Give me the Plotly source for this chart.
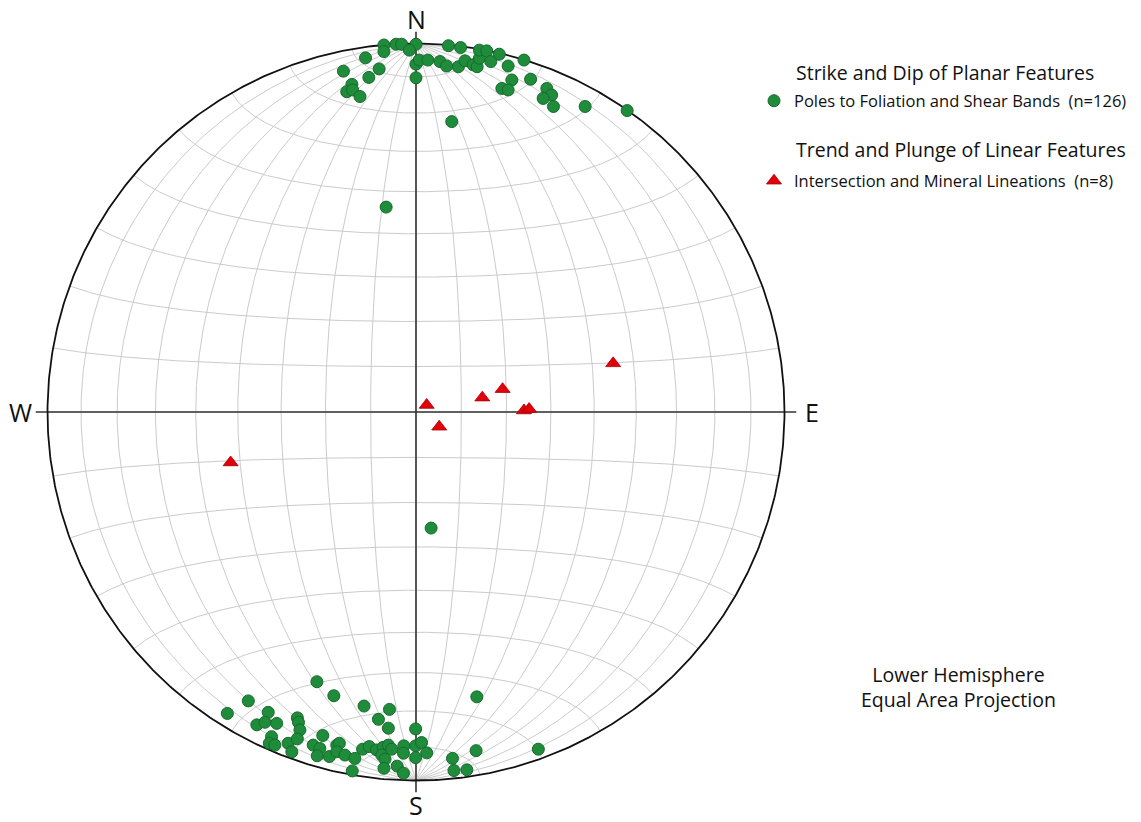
import numpy as np
import plotly.graph_objects as go

# ---------------- data (positions on the equal-area net, net radius = 1; east, north) -------------
pole_east = [
    -0.087, -0.054, -0.039, 0.000, -0.018, -0.087, -0.137, -0.197, -0.100, -0.128,
    -0.174, -0.188, -0.172, -0.152, 0.000, 0.009, 0.032, 0.000, 0.065, 0.083,
    0.088, 0.121, 0.115, 0.133, 0.155, 0.166, 0.172, 0.172, 0.192, 0.226,
    0.203, 0.250, 0.293, 0.260, 0.311, 0.233, 0.250, 0.355, 0.368, 0.345,
    0.373, 0.459, 0.573, 0.097, -0.081, 0.041,
    -0.269, -0.223, -0.455, -0.512, -0.401, -0.432, -0.410, -0.378, -0.322, -0.319,
    -0.315, -0.392, -0.398, -0.383, -0.347, -0.322, -0.337, -0.253, -0.279, -0.261,
    -0.268, -0.235, -0.215, -0.141, -0.072, -0.102, -0.075, -0.001, -0.208, -0.215,
    -0.193, -0.166, -0.173, -0.145, -0.127, -0.107, -0.089, -0.075, -0.093, -0.084,
    -0.066, -0.033, -0.034, -0.001, 0.015, 0.029, -0.001, -0.087, -0.051, -0.034,
    0.165, 0.099, 0.163, 0.332, 0.103, 0.138,
]
pole_north = [
    0.996, 0.998, 0.998, 0.998, 0.982, 0.978, 0.961, 0.925, 0.931, 0.908,
    0.889, 0.869, 0.874, 0.856, 0.944, 0.955, 0.955, 0.907, 0.951, 0.939,
    0.994, 0.989, 0.937, 0.953, 0.942, 0.937, 0.960, 0.982, 0.980, 0.971,
    0.951, 0.939, 0.955, 0.901, 0.903, 0.878, 0.874, 0.878, 0.860, 0.851,
    0.829, 0.829, 0.818, 0.788, 0.556, -0.315,
    -0.732, -0.770, -0.784, -0.818, -0.815, -0.849, -0.842, -0.845, -0.830, -0.842,
    -0.863, -0.881, -0.899, -0.904, -0.899, -0.887, -0.922, -0.878, -0.904, -0.913,
    -0.933, -0.935, -0.904, -0.798, -0.807, -0.834, -0.858, -0.860, -0.899, -0.922,
    -0.931, -0.940, -0.974, -0.915, -0.908, -0.917, -0.910, -0.904, -0.931, -0.942,
    -0.915, -0.906, -0.926, -0.906, -0.897, -0.925, -0.938, -0.967, -0.961, -0.980,
    -0.773, -0.940, -0.919, -0.915, -0.973, -0.971,
]
lin_east = [0.029, 0.063, 0.180, 0.235, 0.293, 0.307, 0.535, -0.503]
lin_north = [0.019, -0.040, 0.039, 0.062, 0.004, 0.008, 0.132, -0.137]

direction_labels = ["N", "E", "S", "W"]
pole_label = "Poles to Foliation and Shear Bands\u00a0\u00a0(n=126)"
lin_label = "Intersection and Mineral Lineations\u00a0\u00a0(n=8)"
planar_header = "Strike and Dip of Planar Features"
linear_header = "Trend and Plunge of Linear Features"
projection_note = "Lower Hemisphere<br>Equal Area Projection"

FONT = "Open Sans"
TXT = "#111111"
GRID_STEP = 10


# ---------------- Schmidt (equal-area) net geometry ----------------
def net_xy(lam_deg, phi_deg):
    lam = np.radians(lam_deg)
    phi = np.radians(phi_deg)
    k = np.sqrt(2.0 / (1.0 + np.cos(phi) * np.cos(lam)))
    return k * np.cos(phi) * np.sin(lam) / np.sqrt(2), k * np.sin(phi) / np.sqrt(2)


gx, gy = [], []
phis = np.linspace(-90, 90, 361)
lams = np.linspace(-90, 90, 361)
for lam in range(-90 + GRID_STEP, 90, GRID_STEP):
    x, y = net_xy(np.full_like(phis, lam), phis)
    gx += list(x) + [None]
    gy += list(y) + [None]
for phi in range(-90 + GRID_STEP, 90, GRID_STEP):
    x, y = net_xy(lams, np.full_like(lams, phi))
    gx += list(x) + [None]
    gy += list(y) + [None]

t = np.linspace(0, 2 * np.pi, 721)

fig = go.Figure()
fig.add_trace(go.Scatter(x=gx, y=gy, mode="lines", line=dict(color="#cbcbcb", width=1),
                         hoverinfo="skip", showlegend=False))
ext = 1.032
fig.add_trace(go.Scatter(x=[0, 0, None, -ext, ext], y=[ext, -ext, None, 0, 0], mode="lines",
                         line=dict(color="#333333", width=1.6), hoverinfo="skip", showlegend=False))
fig.add_trace(go.Scatter(x=np.cos(t), y=np.sin(t), mode="lines", line=dict(color="#111111", width=1.8),
                         hoverinfo="skip", showlegend=False))

fig.add_trace(go.Scatter(x=pole_east, y=pole_north, mode="markers", name=pole_label,
                         marker=dict(symbol="circle", size=12, color="#1f8c3b",
                                     line=dict(color="#166a2b", width=1)),
                         legend="legend"))
fig.add_trace(go.Scatter(x=lin_east, y=lin_north, mode="markers", name=lin_label,
                         marker=dict(symbol="triangle-up", size=13, color="#e3000b",
                                     line=dict(color="#a30000", width=0.8)),
                         legend="legend2"))

# direction labels
lab_pos = {"N": (0, 1.066), "E": (1.075, 0), "S": (0, -1.066), "W": (-1.072, 0)}
for lab in direction_labels:
    x, y = lab_pos[lab]
    fig.add_annotation(x=x, y=y, text=lab, showarrow=False, xanchor="center", yanchor="middle",
                       font=dict(family=FONT, size=25, color=TXT))

W, H = 1141, 822
fig.add_annotation(xref="paper", yref="paper", x=794 / W, y=1 - 72 / H, text=planar_header,
                   showarrow=False, xanchor="left", yanchor="middle",
                   font=dict(family=FONT, size=19.5, color=TXT))
fig.add_annotation(xref="paper", yref="paper", x=794 / W, y=1 - 149 / H, text=linear_header,
                   showarrow=False, xanchor="left", yanchor="middle",
                   font=dict(family=FONT, size=19.5, color=TXT))
fig.add_annotation(xref="paper", yref="paper", x=958 / W, y=1 - 687 / H, text=projection_note,
                   showarrow=False, xanchor="center", yanchor="middle",
                   font=dict(family=FONT, size=19.5, color=TXT))

legend_style = dict(xanchor="left", yanchor="middle", bgcolor="rgba(0,0,0,0)", borderwidth=0,
                    font=dict(family=FONT, size=16.5, color=TXT), itemclick=False,
                    itemdoubleclick=False)
fig.update_layout(
    width=W, height=H, margin=dict(l=0, r=0, t=0, b=0),
    paper_bgcolor="white", plot_bgcolor="white", showlegend=True,
    xaxis=dict(range=[-416 / 368.5, (W - 416) / 368.5], visible=False, fixedrange=True),
    yaxis=dict(range=[-(H - 412) / 368.5, 412 / 368.5], visible=False, fixedrange=True),
    legend=dict(x=754 / W, y=1 - 101 / H, **legend_style),
    legend2=dict(x=754 / W, y=1 - 181 / H, **legend_style),
)

fig.write_html("out.html", config={"displayModeBar": False},
               post_script="document.body.style.margin='0';")
